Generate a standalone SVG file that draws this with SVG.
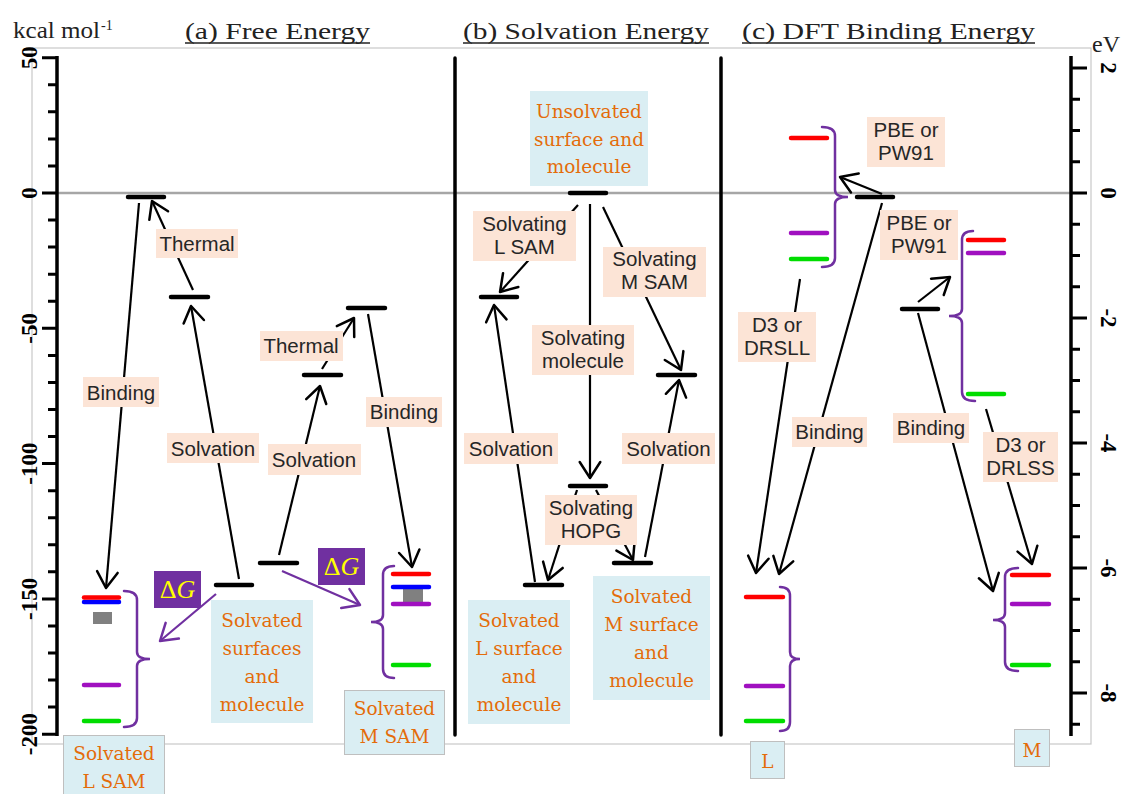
<svg xmlns="http://www.w3.org/2000/svg" width="1125" height="794" viewBox="0 0 1125 794">
<style>
.frame{fill:none;stroke:#c8c8c8;stroke-width:1.2}
.axis{stroke:#000;stroke-width:3.5;fill:none}
.tick{stroke:#000;stroke-width:3}
.zero{stroke:#a6a6a6;stroke-width:2.5}
.div{stroke:#000;stroke-width:3.5;stroke-linecap:round}
.lvl{stroke:#000;stroke-width:4.5;stroke-linecap:round}
.red{stroke:#ff0000;stroke-width:4.5;stroke-linecap:round}
.blu{stroke:#0000ff;stroke-width:4.5;stroke-linecap:round}
.pur{stroke:#a010c0;stroke-width:4.5;stroke-linecap:round}
.grn{stroke:#00dd00;stroke-width:4.5;stroke-linecap:round}
.gry{fill:#808080}
.brk{fill:none;stroke:#7030a0;stroke-width:2.5;stroke-linecap:round}
.arr{fill:none;stroke:#000;stroke-width:2.2;marker-end:url(#ah)}
.parr{fill:none;stroke:#7030a0;stroke-width:2.2;marker-end:url(#pah)}
.pk{fill:#fce4d6}
.pt{font-family:"Liberation Sans",Arial,sans-serif;font-size:20.5px;fill:#262626;text-anchor:middle}
.bb{fill:#daeef3}
.bbs{fill:#daeef3;stroke:#bfbfbf;stroke-width:1}
.ot{font-family:"DejaVu Serif","Liberation Serif",serif;font-size:18.5px;fill:#e46c0a;text-anchor:middle}
.ttl{font-family:"Liberation Serif","Times New Roman",serif;font-size:24px;fill:#222}
.sup{font-family:"Liberation Serif","Times New Roman",serif;font-size:14px;fill:#222}
.ul{stroke:#222;stroke-width:1.4}
.ax{font-family:"Liberation Serif","Times New Roman",serif;font-size:23px;font-weight:bold;fill:#000;text-anchor:middle}
.dgb{fill:#7030a0}
.dg{font-family:"Liberation Serif","Times New Roman",serif;font-size:26px;fill:#ffff00;text-anchor:middle}
</style>
<defs>
<marker id="ah" markerUnits="userSpaceOnUse" markerWidth="40" markerHeight="40" viewBox="-20 -20 40 40" refX="0" refY="0" orient="auto" overflow="visible">
<path d="M-16,-10.3 L0,0 L-16,10.3" fill="none" stroke="#000" stroke-width="2.5" stroke-linecap="round" stroke-linejoin="round"/>
</marker>
<marker id="pah" markerUnits="userSpaceOnUse" markerWidth="40" markerHeight="40" viewBox="-20 -20 40 40" refX="0" refY="0" orient="auto" overflow="visible">
<path d="M-16,-10.3 L0,0 L-16,10.3" fill="none" stroke="#7030a0" stroke-width="2.5" stroke-linecap="round" stroke-linejoin="round"/>
</marker>
</defs>
<rect width="1125" height="794" fill="#fff"/>

<g id="frame">
<rect class="frame" x="32" y="48" width="1059" height="696"/>
<line class="zero" x1="57" y1="193" x2="1071" y2="193"/>
<line class="div" x1="455" y1="58" x2="455" y2="735"/>
<line class="div" x1="721" y1="58" x2="721" y2="735"/>
</g>

<g id="titles">
<text class="ttl" x="13" y="38" textLength="87" lengthAdjust="spacingAndGlyphs">kcal mol</text>
<text class="sup" x="101" y="30">-1</text>
<text class="ttl" x="185" y="39" textLength="185" lengthAdjust="spacingAndGlyphs">(a) Free Energy</text>
<line class="ul" x1="185" y1="43" x2="370" y2="43"/>
<text class="ttl" x="463" y="39" textLength="246" lengthAdjust="spacingAndGlyphs">(b) Solvation Energy</text>
<line class="ul" x1="463" y1="43" x2="709" y2="43"/>
<text class="ttl" x="742" y="39" textLength="293" lengthAdjust="spacingAndGlyphs">(c) DFT Binding Energy</text>
<line class="ul" x1="742" y1="43" x2="1035" y2="43"/>
<text class="ttl" x="1092" y="52">eV</text>
</g>

<g id="left-axis">
<line class="axis" x1="57" y1="56" x2="57" y2="736"/>
<path class="tick" d="M42,57.7H57M48,84.8H57M48,111.8H57M48,138.9H57M48,165.9H57M42,193H57M48,220.1H57M48,247.1H57M48,274.2H57M48,301.2H57M42,328.3H57M48,355.4H57M48,382.4H57M48,409.5H57M48,436.5H57M42,463.6H57M48,490.7H57M48,517.7H57M48,544.8H57M48,571.8H57M42,598.9H57M48,626H57M48,653H57M48,680.1H57M48,707.1H57M42,734.2H57"/>
<text class="ax" transform="translate(37,57.7) rotate(-90)">50</text>
<text class="ax" transform="translate(37,193) rotate(-90)">0</text>
<text class="ax" transform="translate(37,328.3) rotate(-90)">-50</text>
<text class="ax" transform="translate(37,463.6) rotate(-90)">-100</text>
<text class="ax" transform="translate(37,598.9) rotate(-90)">-150</text>
<text class="ax" transform="translate(37,734.2) rotate(-90)">-200</text>
</g>

<g id="right-axis">
<line class="axis" x1="1071" y1="56" x2="1071" y2="736"/>
<path class="tick" d="M1071,68H1087M1071,99.25H1080M1071,130.5H1080M1071,161.75H1080M1071,193H1087M1071,224.25H1080M1071,255.5H1080M1071,286.75H1080M1071,318H1087M1071,349.25H1080M1071,380.5H1080M1071,411.75H1080M1071,443H1087M1071,474.25H1080M1071,505.5H1080M1071,536.75H1080M1071,568H1087M1071,599.25H1080M1071,630.5H1080M1071,661.75H1080M1071,693H1087M1071,724.25H1080"/>
<text class="ax" transform="translate(1101,68) rotate(90)">2</text>
<text class="ax" transform="translate(1101,193) rotate(90)">0</text>
<text class="ax" transform="translate(1101,318) rotate(90)">-2</text>
<text class="ax" transform="translate(1101,443) rotate(90)">-4</text>
<text class="ax" transform="translate(1101,568) rotate(90)">-6</text>
<text class="ax" transform="translate(1101,693) rotate(90)">-8</text>
</g>

<g id="connectors">
<line class="arr" x1="139" y1="203" x2="106" y2="588"/>
<line class="arr" x1="193" y1="290" x2="152" y2="201"/>
<line class="arr" x1="239" y1="579" x2="191" y2="306"/>
<line class="arr" x1="279" y1="555" x2="320" y2="386"/>
<line class="arr" x1="322" y1="369" x2="354" y2="318"/>
<line class="arr" x1="368" y1="314" x2="412" y2="567"/>
<line class="parr" x1="216" y1="594" x2="160" y2="641"/>
<line class="parr" x1="282" y1="571" x2="360" y2="605"/>
<line class="arr" x1="578" y1="205" x2="500" y2="292"/>
<line class="arr" x1="590" y1="204" x2="590" y2="478"/>
<line class="arr" x1="603" y1="207" x2="681" y2="370"/>
<line class="arr" x1="535" y1="582" x2="494" y2="305"/>
<line class="arr" x1="645" y1="557" x2="679" y2="380"/>
<line class="arr" x1="577" y1="490" x2="548" y2="580"/>
<line class="arr" x1="596" y1="490" x2="633" y2="560"/>
<line class="arr" x1="882" y1="194" x2="840" y2="177"/>
<line class="arr" x1="800" y1="279" x2="756" y2="573"/>
<line class="arr" x1="882" y1="203" x2="779" y2="574"/>
<line class="arr" x1="918" y1="302" x2="950" y2="277"/>
<line class="arr" x1="918" y1="313" x2="993" y2="591"/>
<line class="arr" x1="986" y1="409" x2="1032" y2="564"/>
</g>

<g id="levels-a">
<line class="lvl" x1="128" y1="197" x2="164" y2="197"/>
<line class="lvl" x1="171" y1="297" x2="208" y2="297"/>
<line class="lvl" x1="348" y1="308" x2="385" y2="308"/>
<line class="lvl" x1="304" y1="375" x2="341" y2="375"/>
<line class="lvl" x1="260" y1="563" x2="297" y2="563"/>
<line class="lvl" x1="216" y1="585" x2="252" y2="585"/>
</g>

<g id="lsam-a">
<rect class="gry" x="93" y="612" width="19" height="12"/>
<line class="blu" x1="84" y1="602" x2="119" y2="602"/>
<line class="red" x1="84" y1="597.5" x2="119" y2="597.5"/>
<line class="pur" x1="84" y1="685" x2="119" y2="685"/>
<line class="grn" x1="84" y1="721" x2="119" y2="721"/>
<path class="brk" d="M124,591 Q137,591 137,600 L137,652 Q137,659 150,659 Q137,659 137,666 L137,718 Q137,727 124,727"/>
</g>

<g id="msam-a">
<rect class="gry" x="403" y="587" width="20" height="16"/>
<line class="red" x1="393" y1="574" x2="429" y2="574"/>
<line class="blu" x1="393" y1="587" x2="429" y2="587"/>
<line class="pur" x1="393" y1="604" x2="429" y2="604"/>
<line class="grn" x1="393" y1="665" x2="429" y2="665"/>
<path class="brk" d="M394,566 Q383,566 383,575 L383,615 Q383,622 371,622 Q383,622 383,629 L383,669 Q383,678 394,678"/>
</g>

<g id="levels-b">
<line class="lvl" x1="570" y1="193" x2="606" y2="193"/>
<line class="lvl" x1="481" y1="297" x2="517" y2="297"/>
<line class="lvl" x1="658" y1="375" x2="695" y2="375"/>
<line class="lvl" x1="570" y1="486" x2="606" y2="486"/>
<line class="lvl" x1="525" y1="585" x2="562" y2="585"/>
<line class="lvl" x1="614" y1="563" x2="651" y2="563"/>
</g>

<g id="levels-c">
<line class="lvl" x1="857" y1="197" x2="893" y2="197"/>
<line class="lvl" x1="902" y1="309" x2="938" y2="309"/>
</g>

<g id="l-top-c">
<line class="red" x1="791" y1="138" x2="827" y2="138"/>
<line class="pur" x1="791" y1="233" x2="827" y2="233"/>
<line class="grn" x1="791" y1="259" x2="827" y2="259"/>
<path class="brk" d="M822,127 Q835,127 835,136 L835,190 Q835,197 848,197 Q835,197 835,204 L835,258 Q835,267 822,267"/>
</g>

<g id="m-top-c">
<line class="red" x1="968" y1="240" x2="1004" y2="240"/>
<line class="pur" x1="968" y1="253" x2="1004" y2="253"/>
<line class="grn" x1="968" y1="394" x2="1004" y2="394"/>
<path class="brk" d="M973,231 Q962,231 962,240 L962,309 Q962,316 949,316 Q962,316 962,323 L962,392 Q962,401 975,401"/>
</g>

<g id="l-bot-c">
<line class="red" x1="746" y1="597" x2="783" y2="597"/>
<line class="pur" x1="746" y1="686" x2="783" y2="686"/>
<line class="grn" x1="746" y1="721" x2="783" y2="721"/>
<path class="brk" d="M780,587 Q790,587 790,596 L790,652 Q790,659 800,659 Q790,659 790,666 L790,722 Q790,731 780,731"/>
</g>

<g id="m-bot-c">
<line class="red" x1="1012" y1="575" x2="1049" y2="575"/>
<line class="pur" x1="1012" y1="604" x2="1049" y2="604"/>
<line class="grn" x1="1012" y1="665" x2="1049" y2="665"/>
<path class="brk" d="M1018,568 Q1005,568 1005,577 L1005,613 Q1005,620 993,620 Q1005,620 1005,627 L1005,662 Q1005,671 1018,671"/>
</g>

<g id="dg1"><rect class="dgb" x="154" y="571" width="47" height="37"/><text class="dg" x="177.5" y="598">Δ<tspan font-style="italic">G</tspan></text></g>
<g id="dg2"><rect class="dgb" x="318" y="548" width="47" height="37"/><text class="dg" x="341.5" y="575">Δ<tspan font-style="italic">G</tspan></text></g>

<g id="lbl-thermal-1"><rect class="pk" x="156" y="229" width="82" height="29"/><text class="pt" x="197" y="251">Thermal</text></g>
<g id="lbl-binding-1"><rect class="pk" x="83" y="377" width="76" height="30"/><text class="pt" x="121" y="400">Binding</text></g>
<g id="lbl-solvation-1"><rect class="pk" x="167" y="433" width="92" height="30"/><text class="pt" x="213" y="456">Solvation</text></g>
<g id="lbl-thermal-2"><rect class="pk" x="260" y="331" width="83" height="30"/><text class="pt" x="301" y="353">Thermal</text></g>
<g id="lbl-solvation-2"><rect class="pk" x="268" y="444" width="93" height="31"/><text class="pt" x="314" y="467">Solvation</text></g>
<g id="lbl-binding-2"><rect class="pk" x="366" y="397" width="76" height="30"/><text class="pt" x="404" y="419">Binding</text></g>

<g id="lbl-solv-lsam"><rect class="pk" x="473" y="211" width="103" height="50"/><text class="pt" x="524.5" y="231">Solvating<tspan x="524.5" dy="23">L SAM</tspan></text></g>
<g id="lbl-solv-msam"><rect class="pk" x="603" y="247" width="103" height="50"/><text class="pt" x="654.5" y="266">Solvating<tspan x="654.5" dy="23">M SAM</tspan></text></g>
<g id="lbl-solv-mol"><rect class="pk" x="532" y="325" width="102" height="50"/><text class="pt" x="583" y="345">Solvating<tspan x="583" dy="23">molecule</tspan></text></g>
<g id="lbl-solvation-3"><rect class="pk" x="464" y="433" width="94" height="31"/><text class="pt" x="511" y="456">Solvation</text></g>
<g id="lbl-solvation-4"><rect class="pk" x="622" y="433" width="93" height="31"/><text class="pt" x="668.5" y="456">Solvation</text></g>
<g id="lbl-solv-hopg"><rect class="pk" x="545" y="495" width="92" height="50"/><text class="pt" x="591" y="515">Solvating<tspan x="591" dy="23">HOPG</tspan></text></g>

<g id="lbl-pbe-1"><rect class="pk" x="867" y="117" width="78" height="50"/><text class="pt" x="906" y="137">PBE or<tspan x="906" dy="23">PW91</tspan></text></g>
<g id="lbl-pbe-2"><rect class="pk" x="880" y="210" width="78" height="50"/><text class="pt" x="919" y="230">PBE or<tspan x="919" dy="23">PW91</tspan></text></g>
<g id="lbl-d3-1"><rect class="pk" x="738" y="312" width="78" height="50"/><text class="pt" x="777" y="332">D3 or<tspan x="777" dy="23">DRSLL</tspan></text></g>
<g id="lbl-binding-3"><rect class="pk" x="792" y="417" width="75" height="30"/><text class="pt" x="829.5" y="439">Binding</text></g>
<g id="lbl-binding-4"><rect class="pk" x="893" y="413" width="76" height="30"/><text class="pt" x="931" y="435">Binding</text></g>
<g id="lbl-d3-2"><rect class="pk" x="983" y="432" width="75" height="50"/><text class="pt" x="1020.5" y="452">D3 or<tspan x="1020.5" dy="23">DRLSS</tspan></text></g>

<g id="box-surfaces"><rect class="bb" x="211" y="600" width="102" height="123"/><text class="ot" x="262" y="627">Solvated<tspan x="262" dy="28">surfaces</tspan><tspan x="262" dy="28">and</tspan><tspan x="262" dy="28">molecule</tspan></text></g>
<g id="box-lsam"><rect class="bbs" x="63.5" y="735.5" width="101" height="62"/><text class="ot" x="114" y="760">Solvated<tspan x="114" dy="28">L SAM</tspan></text></g>
<g id="box-msam"><rect class="bbs" x="344.5" y="690.5" width="100" height="64"/><text class="ot" x="394.5" y="715">Solvated<tspan x="394.5" dy="28">M SAM</tspan></text></g>
<g id="box-unsolvated"><rect class="bb" x="530" y="91" width="118" height="95"/><text class="ot" x="589" y="118">Unsolvated<tspan x="589" dy="28">surface and</tspan><tspan x="589" dy="27">molecule</tspan></text></g>
<g id="box-l-surface"><rect class="bb" x="468" y="600" width="102" height="124"/><text class="ot" x="519" y="627">Solvated<tspan x="519" dy="28">L surface</tspan><tspan x="519" dy="28">and</tspan><tspan x="519" dy="28">molecule</tspan></text></g>
<g id="box-m-surface"><rect class="bb" x="593" y="576" width="117" height="124"/><text class="ot" x="651.5" y="603">Solvated<tspan x="651.5" dy="28">M surface</tspan><tspan x="651.5" dy="28">and</tspan><tspan x="651.5" dy="28">molecule</tspan></text></g>
<g id="box-l"><rect class="bbs" x="750.5" y="741.5" width="34" height="37"/><text class="ot" x="767.5" y="768">L</text></g>
<g id="box-m"><rect class="bbs" x="1014.5" y="729.5" width="35" height="37"/><text class="ot" x="1032" y="757">M</text></g>
</svg>
